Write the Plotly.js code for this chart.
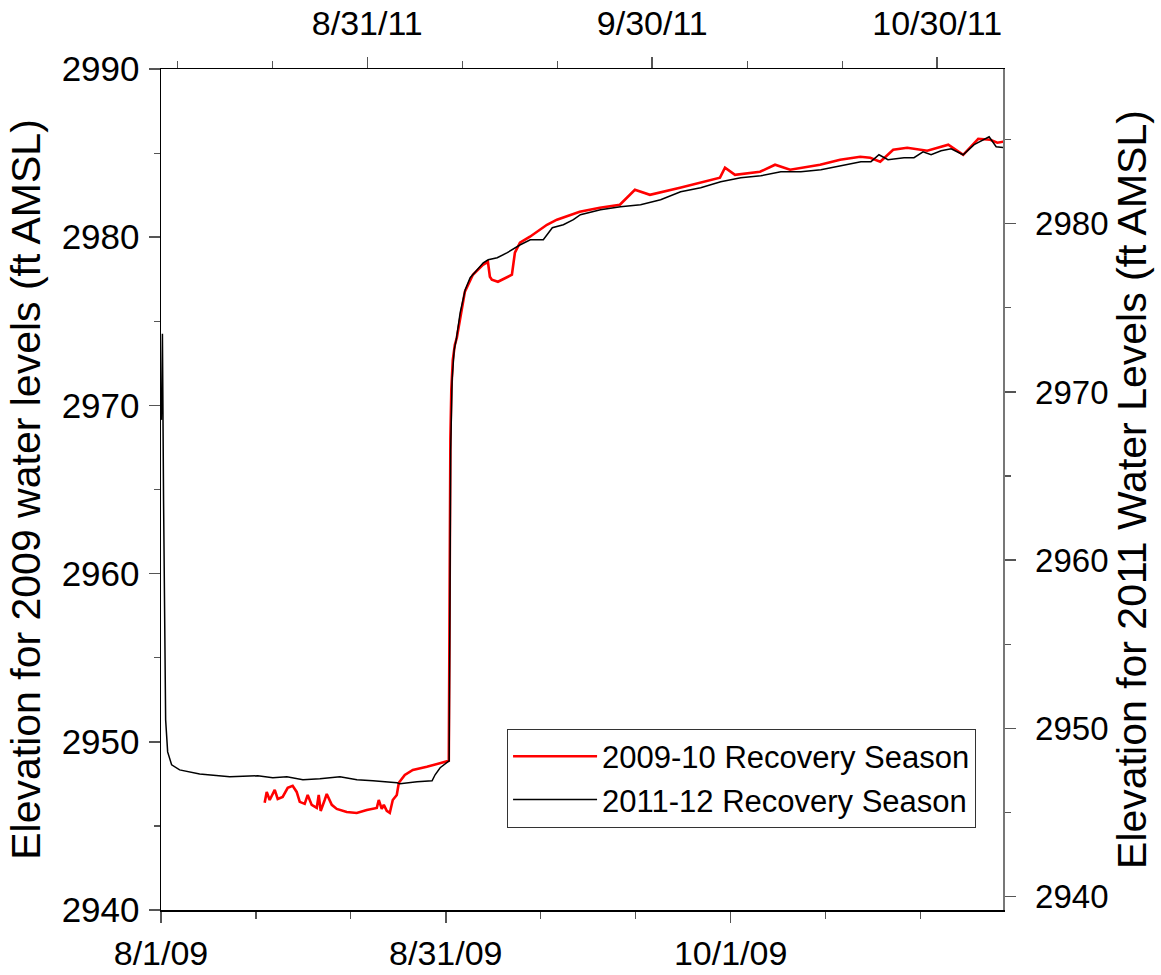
<!DOCTYPE html>
<html>
<head>
<meta charset="utf-8">
<script src="https://cdn.plot.ly/plotly-3.0.1.min.js"></script>
<style>html,body{margin:0;padding:0;background:#fff;}#chart{width:1161px;height:975px;}</style>
</head>
<body>
<div id="chart"></div>
<script>
// 2009-10 season: days since 8/1/2009, elevation (ft AMSL) on the left axis
const days2009 = [11.10,11.32,11.64,12.18,12.50,13.03,13.57,14.10,14.53,14.86,15.39,15.71,16.14,16.68,16.89,17.10,17.53,17.75,18.29,18.82,19.89,20.96,22.04,23.11,23.32,23.64,23.86,24.18,24.50,24.82,25.25,25.47,26.11,26.97,28.47,29.86,30.82,30.88,30.93,30.99,31.09,31.25,31.47,31.68,32.54,33.40,34.47,35.01,35.22,35.43,36.08,37.04,37.58,37.90,38.44,39.51,41.33,42.40,44.84,47.00,49.14,50.75,52.36,55.58,57.72,59.86,60.40,61.47,64.15,65.76,67.37,70.58,72.73,74.88,75.95,77.02,78.41,79.91,82.06,84.31,85.91,87.52,88.81,89.56,90.20];
const level2009 = [2946.37,2947.02,2946.54,2947.14,2946.60,2946.72,2947.26,2947.38,2947.02,2946.43,2946.31,2946.84,2946.25,2946.07,2946.84,2945.89,2946.54,2946.90,2946.25,2946.01,2945.83,2945.77,2945.95,2946.07,2946.54,2946.01,2946.25,2945.89,2945.77,2946.54,2946.84,2947.56,2948.03,2948.33,2948.51,2948.75,2948.87,2955.46,2963.20,2967.95,2970.93,2972.71,2973.60,2974.02,2976.76,2977.77,2978.36,2978.54,2977.65,2977.47,2977.35,2977.59,2977.77,2979.08,2979.67,2980.03,2980.74,2981.04,2981.51,2981.75,2981.93,2982.82,2982.52,2982.94,2983.24,2983.54,2984.13,2983.71,2983.89,2984.31,2984.01,2984.31,2984.61,2984.78,2984.72,2984.49,2985.20,2985.32,2985.14,2985.50,2984.90,2985.85,2985.79,2985.62,2985.68];

// 2011-12 season: days since 8/1/2011, elevation (ft AMSL) on the right axis
const days2011 = [8.32,8.43,8.55,8.66,8.77,8.98,9.40,10.24,12.35,15.52,18.47,20.05,21.53,23.22,25.01,27.12,28.91,30.60,33.13,33.44,35.24,36.82,37.14,37.67,38.62,38.65,38.70,38.78,38.93,39.15,39.36,39.78,40.31,40.83,41.57,42.21,42.73,43.68,44.74,46.11,47.16,48.53,49.48,50.64,51.70,52.44,54.55,56.66,58.77,60.88,62.99,65.10,67.21,69.32,71.43,73.54,75.65,77.76,79.87,81.97,83.03,83.87,84.82,86.51,87.56,88.51,89.36,90.41,91.47,92.73,93.89,95.47,96.21,97.06];
const level2011 = [2968.34,2973.46,2963.59,2954.67,2950.50,2948.60,2947.83,2947.53,2947.29,2947.12,2947.18,2947.06,2947.12,2946.94,2947.00,2947.12,2946.94,2946.88,2946.76,2946.70,2946.82,2946.88,2947.24,2947.66,2948.07,2951.69,2960.02,2966.56,2970.72,2972.51,2973.10,2974.71,2976.08,2976.79,2977.26,2977.68,2977.86,2977.98,2978.28,2978.75,2979.05,2979.05,2979.76,2979.94,2980.24,2980.54,2980.83,2981.01,2981.13,2981.43,2981.90,2982.14,2982.50,2982.74,2982.85,2983.09,2983.09,2983.21,2983.45,2983.69,2983.69,2984.10,2983.81,2983.93,2983.93,2984.28,2984.10,2984.34,2984.46,2984.10,2984.70,2985.17,2984.58,2984.52];

// tick positions / labels
const bottomTickDays = [0, 30.5, 61];
const bottomTickText = ['8/1/09', '8/31/09', '10/1/09'];
const topTickDays = [30, 60, 90];
const topTickText = ['8/31/11', '9/30/11', '10/30/11'];
const leftTicks = [2940, 2950, 2960, 2970, 2980, 2990];
const rightTicks = [2940, 2950, 2960, 2970, 2980];

const FONT = '"Liberation Sans", Arial, Helvetica, sans-serif';

const traces = [
  {x: days2009, y: level2009, xaxis: 'x', yaxis: 'y', type: 'scatter', mode: 'lines',
   name: '2009-10 Recovery Season', line: {color: '#ff0000', width: 2.6}},
  {x: days2011, y: level2011, xaxis: 'x2', yaxis: 'y2', type: 'scatter', mode: 'lines',
   name: '2011-12 Recovery Season', line: {color: '#000000', width: 1.5}}
];

const common = {
  showgrid: false, zeroline: false, showline: true, linecolor: '#000', linewidth: 1.5,
  ticks: 'outside', ticklen: 11, tickwidth: 1.5, tickcolor: '#555',
  tickfont: {family: FONT, size: 34, color: '#000'}, fixedrange: true
};

const layout = {
  width: 1161, height: 975,
  margin: {l: 161, r: 158, t: 69, b: 65, pad: 0},
  paper_bgcolor: '#fff', plot_bgcolor: '#fff',
  font: {family: FONT, color: '#000'},
  showlegend: true,
  legend: {x: 0.411, y: 0.098, xanchor: 'left', yanchor: 'bottom',
           bgcolor: '#fff', bordercolor: '#333', borderwidth: 1,
           font: {family: FONT, size: 31, color: '#000'}, itemwidth: 84, tracegroupgap: 0},
  xaxis: Object.assign({}, common, {
    range: [0, 90.17], tickmode: 'array', tickvals: bottomTickDays, ticktext: bottomTickText,
    side: 'bottom', anchor: 'y', ticklabelstandoff: 2,
    minor: {ticks: 'outside', ticklen: 7, tickwidth: 1.2, tickcolor: '#555', tick0: 0, dtick: 30.5 / 3}
  }),
  xaxis2: Object.assign({}, common, {
    range: [8.28, 96.93], tickmode: 'array', tickvals: topTickDays, ticktext: topTickText,
    side: 'top', overlaying: 'x', anchor: 'y', ticklabelstandoff: 8,
    minor: {ticks: 'outside', ticklen: 7, tickwidth: 1.2, tickcolor: '#555', tick0: 0, dtick: 10}
  }),
  yaxis: Object.assign({}, common, {
    range: [2940, 2990], tickmode: 'array', tickvals: leftTicks, side: 'left', anchor: 'x',
    tickfont: {family: FONT, size: 35, color: '#000'}, ticklabelstandoff: 2,
    minor: {ticks: 'outside', ticklen: 6, tickwidth: 1.2, tickcolor: '#555', tick0: 2940, dtick: 5},
    title: {text: 'Elevation for 2009 water levels (ft AMSL)', font: {family: FONT, size: 41, color: '#000'}, standoff: 8}
  }),
  yaxis2: Object.assign({}, common, {
    range: [2939.2, 2989.2], tickmode: 'array', tickvals: rightTicks, side: 'right',
    overlaying: 'y', anchor: 'x', linecolor: '#777',
    tickfont: {family: FONT, size: 33, color: '#000'}, ticklabelstandoff: 13,
    minor: {ticks: 'outside', ticklen: 6, tickwidth: 1.2, tickcolor: '#555', tick0: 2940, dtick: 5},
    title: {text: 'Elevation for 2011 Water Levels (ft AMSL)', font: {family: FONT, size: 41, color: '#000'}, standoff: 2}
  })
};

Plotly.newPlot('chart', traces, layout, {displayModeBar: false, staticPlot: true});
</script>
</body>
</html>
